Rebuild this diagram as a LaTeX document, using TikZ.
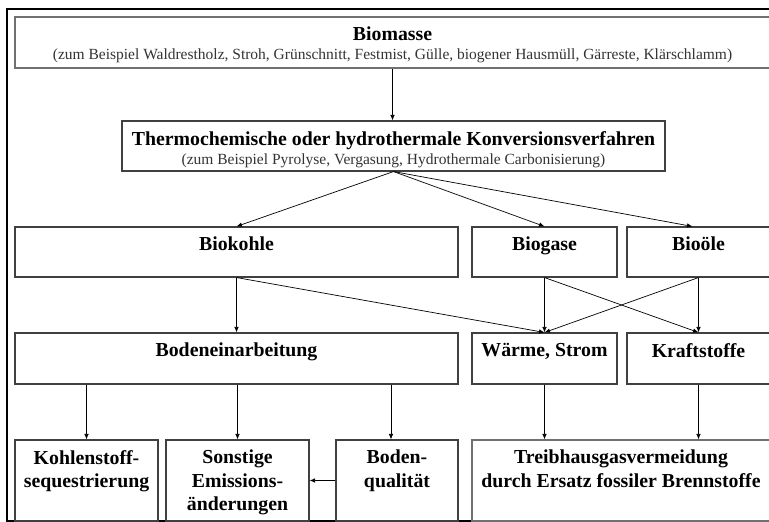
\documentclass[tikz,border=0pt]{standalone}
\usepackage{fontspec}
\setmainfont{Liberation Serif}
\usetikzlibrary{positioning,arrows.meta}
\definecolor{boxgray}{HTML}{404040}
\definecolor{topgray}{HTML}{707070}
\definecolor{subgray}{HTML}{333333}
\newcommand{\headfont}{\fontsize{19.8}{23.5}\selectfont\bfseries}
\newcommand{\subfont}{\fontsize{15.5}{18}\selectfont\mdseries\color{subgray}}
\tikzstyle{box} = [draw=boxgray, rectangle, line width=1.1pt, inner sep=0pt]
\tikzstyle{head} = [inner sep=0pt, align=center, font=\headfont, anchor=north]
\tikzstyle{flow} = [->, line width=0.7pt]

\begin{document}
\begin{tikzpicture}[x=1pt,y=1pt,>={Latex[length=5.5pt,width=4.5pt]}]
	\useasboundingbox (0,0) rectangle (769,522);
	% outer frame
	\draw [line width=1.1pt] (7,1) rectangle (780,513);

	% the boxes, row by row
	\node [box,draw=topgray,line width=1.7pt,minimum width=755pt,minimum height=51pt] (biomasse) at (392.5,479.5) {};
	\node [box,minimum width=543pt,minimum height=50pt] (konv) at (393.5,376) {};

	\node [box,minimum width=443pt,minimum height=50pt] (kohle) at (236.5,270) {};
	\node [box,minimum width=145pt,minimum height=50pt] (gas) at (544.5,270) {};
	\node [box,minimum width=143pt,minimum height=50pt] (oel) at (698.5,270) {};

	\node [box,minimum width=443pt,minimum height=51pt] (boden) at (236.5,163.5) {};
	\node [box,minimum width=145pt,minimum height=51pt] (waerme) at (544.5,163.5) {};
	\node [box,minimum width=143pt,minimum height=51pt] (kraft) at (698.5,163.5) {};

	\node [box,minimum width=143pt,minimum height=81pt] (seq) at (86.5,41.5) {};
	\node [box,minimum width=143pt,minimum height=81pt] (emis) at (237.5,41.5) {};
	\node [box,minimum width=122pt,minimum height=81pt] (qual) at (397,41.5) {};
	\node [box,draw=topgray,minimum width=298pt,minimum height=81pt] (thg) at (621,41.5) {};

	% the texts, hung below the top edge of each box
	\node [head,below=10.5pt of biomasse.north] (biomasse t) {Biomasse\\[-4.5pt]{\subfont (zum Beispiel Waldrestholz, Stroh, Grünschnitt, Festmist, Gülle, biogener Hausmüll, Gärreste, Klärschlamm)}};
	\node [head,below=10.5pt of konv.north] (konv t) {Thermochemische oder hydrothermale Konversionsverfahren\\[-4.5pt]{\subfont (zum Beispiel Pyrolyse, Vergasung, Hydrothermale Carbonisierung)}};
	\node [head,below=10.5pt of kohle.north] (kohle t) {Biokohle};
	\node [head,below=10.5pt of gas.north] (gas t) {Biogase};
	\node [head,below=10.5pt of oel.north] (oel t) {Bioöle};
	\node [head,below=10.5pt of boden.north] (boden t) {Bodeneinarbeitung};
	\node [head,below=10.5pt of waerme.north] (waerme t) {Wärme, Strom};
	\node [head,below=10.5pt of kraft.north] (kraft t) {Kraftstoffe};
	\node [head,below=10.5pt of seq.north] (seq t) {Kohlenstoff-\\sequestrierung};
	\node [head,below=10.5pt of emis.north] (emis t) {Sonstige\\Emissions-\\änderungen};
	\node [head,below=10.5pt of qual.north] (qual t) {Boden-\\qualität};
	\node [head,below=10.5pt of thg.north] (thg t) {Treibhausgasvermeidung\\durch Ersatz fossiler Brennstoffe};

	% conversion
	\draw [flow] (biomasse.south) -- (biomasse.south |- konv.north);
	\draw [flow] (konv.south) -- (kohle.north);
	\draw [flow] (konv.south) -- (gas.north);
	\draw [flow] (konv.south) -- ([xshift=-6pt]oel.north);

	% products to use
	\draw [flow] (kohle.south) -- (boden.north);
	\draw [flow] (kohle.south) -- (waerme.north);
	\draw [flow] (gas.south) -- (waerme.north);
	\draw [flow] (gas.south) -- (kraft.north);
	\draw [flow] (oel.south) -- (kraft.north);
	\draw [flow] (oel.south) -- (waerme.north);

	% effects
	\draw [flow] (boden.south -| seq.north) -- (seq.north);
	\draw [flow] (boden.south -| emis.north) -- (emis.north);
	\draw [flow] ([xshift=-6pt]boden.south -| qual.north) -- ([xshift=-6pt]qual.north);
	\draw [flow] (qual.west) -- (emis.east);
	\draw [flow] (waerme.south) -- (waerme.south |- thg.north);
	\draw [flow] (kraft.south) -- (kraft.south |- thg.north);

\end{tikzpicture}
\end{document}
